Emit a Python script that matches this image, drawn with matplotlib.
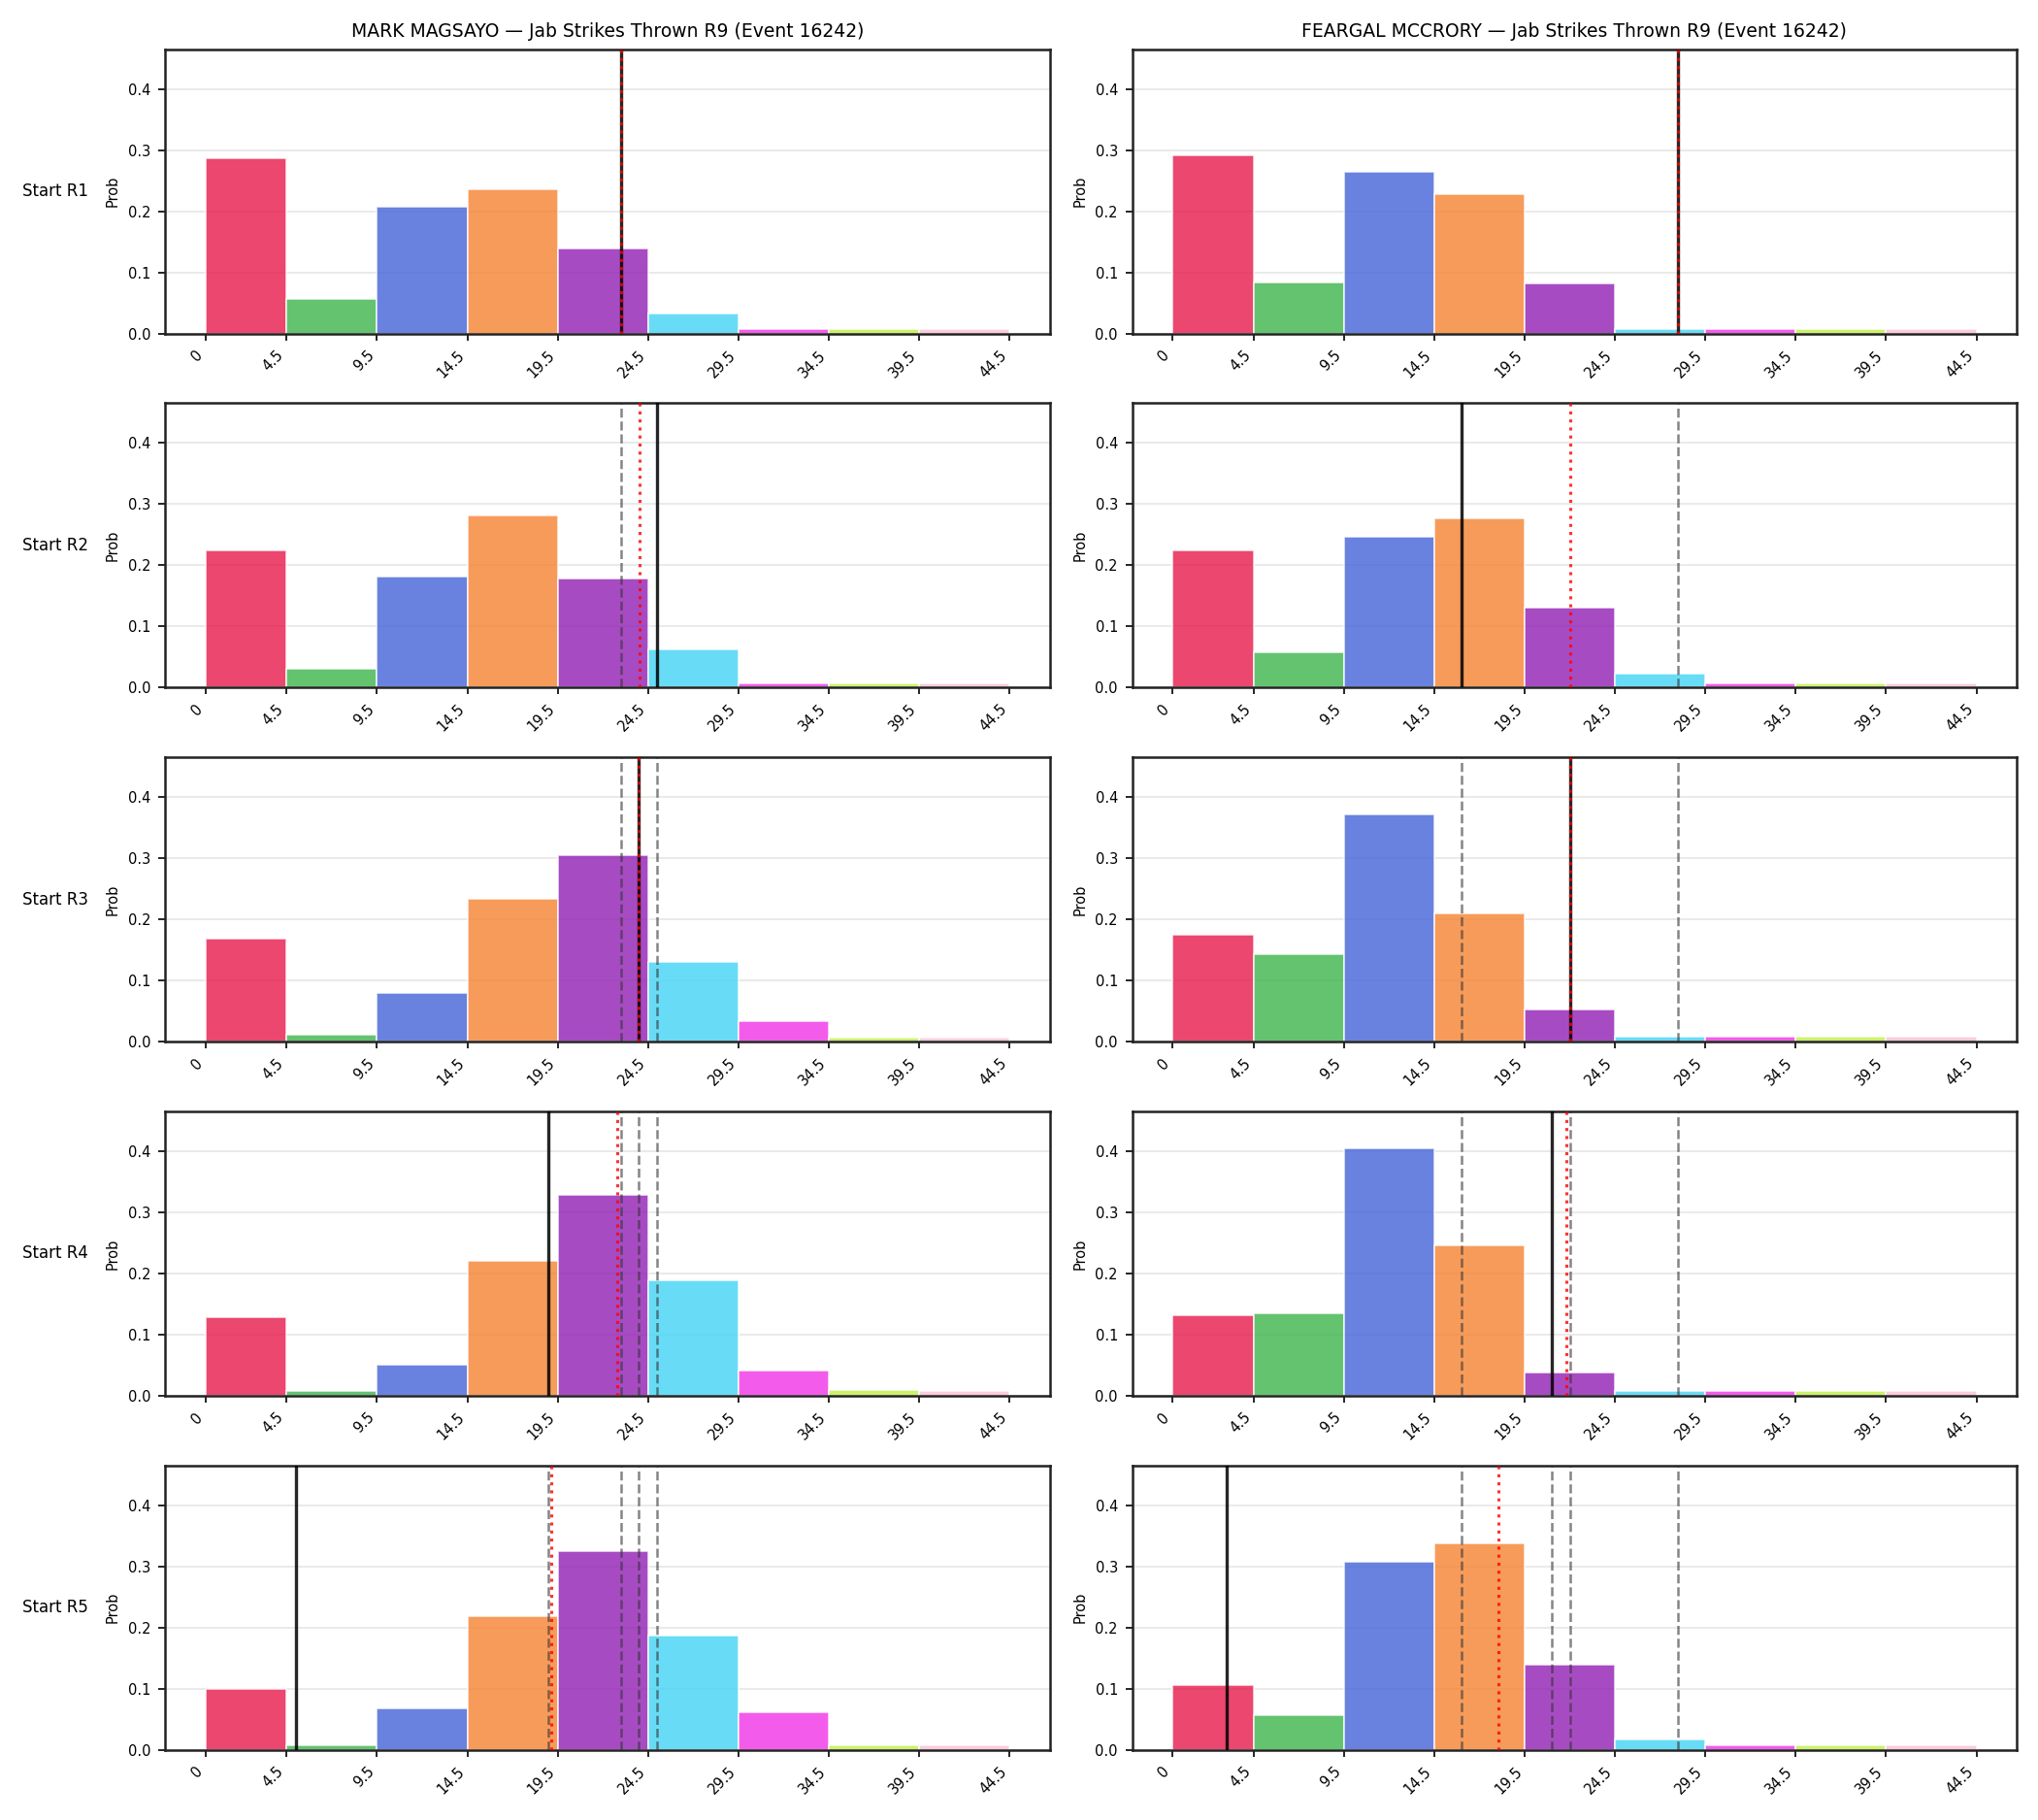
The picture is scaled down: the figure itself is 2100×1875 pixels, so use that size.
import matplotlib
matplotlib.use('Agg')
import matplotlib.pyplot as plt

# bins of jab strikes thrown
bin_edges = [0, 4.5, 9.5, 14.5, 19.5, 24.5, 29.5, 34.5, 39.5, 44.5]
tick_labels = ['0', '4.5', '9.5', '14.5', '19.5', '24.5', '29.5', '34.5', '39.5', '44.5']
bar_colors = ['#e6194b', '#3cb44b', '#4363d8', '#f58231', '#911eb4',
              '#42d4f4', '#f032e6', '#bfef45', '#fabed4']
row_labels = ['Start R1', 'Start R2', 'Start R3', 'Start R4', 'Start R5']

fighters = ['MARK MAGSAYO', 'FEARGAL MCCRORY']

# probability per bin, one row per starting round
magsayo_probs = [
    [0.286, 0.056, 0.207, 0.236, 0.139, 0.033, 0.007, 0.007, 0.007],
    [0.225, 0.030, 0.181, 0.282, 0.178, 0.063, 0.007, 0.007, 0.007],
    [0.169, 0.011, 0.079, 0.234, 0.305, 0.131, 0.034, 0.007, 0.007],
    [0.128, 0.007, 0.051, 0.220, 0.328, 0.188, 0.041, 0.009, 0.007],
    [0.100, 0.007, 0.067, 0.219, 0.324, 0.187, 0.061, 0.007, 0.007],
]
mccrory_probs = [
    [0.292, 0.084, 0.264, 0.228, 0.082, 0.007, 0.007, 0.007, 0.007],
    [0.224, 0.057, 0.247, 0.277, 0.130, 0.023, 0.007, 0.007, 0.007],
    [0.175, 0.143, 0.371, 0.210, 0.052, 0.008, 0.008, 0.008, 0.008],
    [0.131, 0.135, 0.404, 0.246, 0.038, 0.007, 0.007, 0.007, 0.007],
    [0.105, 0.056, 0.308, 0.338, 0.139, 0.017, 0.007, 0.007, 0.007],
]

# solid black line per row (earlier rows shown dashed), red dotted = mean
magsayo_line = [23, 25, 24, 19, 5]
mccrory_line = [28, 16, 22, 21, 3]
magsayo_mean = [23.0, 24.04, 24.0, 22.78, 19.17]
mccrory_mean = [28.0, 22.0, 22.0, 21.81, 18.07]

all_probs = [magsayo_probs, mccrory_probs]
all_lines = [magsayo_line, mccrory_line]
all_means = [magsayo_mean, mccrory_mean]

fig, axes = plt.subplots(5, 2, figsize=(14, 12.5), dpi=150)
plt.subplots_adjust(left=0.081, right=0.9895, top=0.973, bottom=0.0386,
                     wspace=0.0933, hspace=0.245)

lefts = bin_edges[:-1]
widths = [bin_edges[i + 1] - bin_edges[i] for i in range(len(lefts))]

for c in range(2):
    for r in range(5):
        ax = axes[r, c]
        ax.bar(lefts, all_probs[c][r], width=widths, align='edge',
               color=bar_colors, alpha=0.8, edgecolor='white', linewidth=0.8,
               zorder=2)
        # previous rounds
        for v in all_lines[c][:r]:
            ax.axvline(v, color='#333333', linestyle='--', linewidth=1.2,
                       alpha=0.6, zorder=3)
        ax.axvline(all_lines[c][r], color='black', linewidth=1.6, alpha=0.85,
                   zorder=4)
        ax.axvline(all_means[c][r], color='red', linestyle=':', linewidth=1.5,
                   alpha=0.8, zorder=5)

        ax.set_xlim(-2.225, 46.725)
        ax.set_ylim(0, 0.465)
        ax.set_xticks(bin_edges)
        ax.set_xticklabels(tick_labels, rotation=45, ha='right', fontsize=7)
        ax.tick_params(axis='y', labelsize=7)
        ax.set_yticks([0.0, 0.1, 0.2, 0.3, 0.4])
        ax.grid(axis='y', color='#e6e6e6', linewidth=0.8, zorder=0)
        ax.set_axisbelow(True)
        for s in ax.spines.values():
            s.set_color('#222222')
            s.set_linewidth(1.2)
        ax.set_ylabel('Prob', fontsize=7)
        if r == 0:
            ax.set_title(fighters[c] + ' \u2014 Jab Strikes Thrown R9 (Event 16242)',
                         fontsize=9)
        if c == 0:
            ax.text(-0.124, 0.5, row_labels[r], transform=ax.transAxes,
                    ha='center', va='center', fontsize=8)

plt.savefig('out.png', dpi=150)
